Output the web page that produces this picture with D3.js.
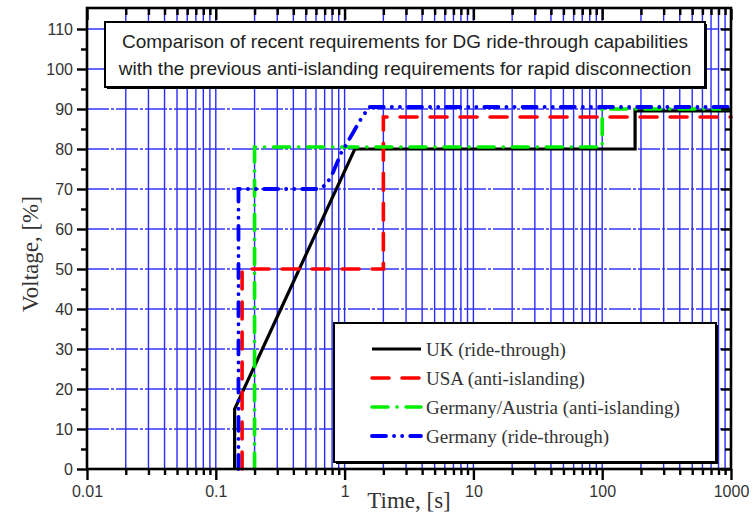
<!DOCTYPE html>
<html>
<head>
<meta charset="utf-8">
<script src="https://cdn.jsdelivr.net/npm/d3@7"></script>
<style>
  body { margin: 0; background: #fff; }
  svg { display: block; }
</style>
</head>
<body>
<div class="chart"></div>
<script>
// data
const ukTime = [0.14, 0.14, 1.2, 180, 180, 1000];
const ukVolt = [0, 15, 80, 80, 89.5, 89.5];

const usaTime = [0.16, 0.16, 2, 2, 1000];
const usaVolt = [0, 50, 50, 88, 88];

const gaTime = [0.2, 0.2, 100, 100, 1000];
const gaVolt = [0, 80.5, 80.5, 90, 90];

const deTime = [0.15, 0.15, 0.6, 0.72, 0.81, 0.94, 1.16, 1.31, 1.55, 1000];
const deVolt = [0, 70, 70, 71, 74, 79, 84, 87, 90.5, 90.5];

const seriesNames = ["UK (ride-through)", "USA (anti-islanding)",
  "Germany/Austria (anti-islanding)", "Germany (ride-through)"];

const xTickLabels = ["0.01", "0.1", "1", "10", "100", "1000"];
const yTickValues = [0, 10, 20, 30, 40, 50, 60, 70, 80, 90, 100, 110];

const titleLines = [
  "Comparison of recent requirements for DG ride-through capabilities",
  "with the previous anti-islanding requirements for rapid disconnection"
];

const W = 753, H = 518;
const plot = { left: 87, right: 731, top: 9, bottom: 469 };

const svg = d3.select(".chart").append("svg")
  .attr("width", W).attr("height", H);

const x = d3.scaleLog().domain([0.01, 1000]).range([plot.left, plot.right]);
const y = d3.scaleLinear().domain([0, 115]).range([plot.bottom, plot.top]);

// all 1..9 x decade ticks
const decades = xTickLabels.map(Number);
const minorX = [];
decades.slice(0, -1).forEach(d => { for (let k = 2; k <= 9; k++) minorX.push(d * k); });
const minorY = d3.range(5, 115, 10);

// grid
const grid = svg.append("g").attr("class", "grid");
grid.selectAll(".vgrid").data(minorX.concat(decades))
  .enter().append("line")
  .attr("x1", d => x(d)).attr("x2", d => x(d))
  .attr("y1", plot.top).attr("y2", plot.bottom)
  .attr("stroke", "#2a2aff").attr("stroke-width", 1.4);
grid.selectAll(".hgrid").data(yTickValues.filter(d => d > 0))
  .enter().append("line")
  .attr("x1", plot.left).attr("x2", plot.right)
  .attr("y1", d => y(d)).attr("y2", d => y(d))
  .attr("stroke", "#3535ff").attr("stroke-width", 1.6)
  .attr("stroke-dasharray", "22,2,3,2");

// series
const series = [
  { t: ukTime, v: ukVolt, color: "#000", dash: null, w: 3.2 },
  { t: usaTime, v: usaVolt, color: "#ff0000", dash: "17,13", w: 3.6 },
  { t: gaTime, v: gaVolt, color: "#00ee00", dash: "16,9,0.1,9", w: 3.6 },
  { t: deTime, v: deVolt, color: "#0000ff", dash: "14,8,0.1,8,0.1,8", w: 3.8 }
];

const line = d3.line().x(d => x(d[0])).y(d => y(d[1]));

const curves = svg.append("g").attr("class", "curves");
curves.selectAll("path").data(series).enter().append("path")
  .attr("d", s => line(s.t.map((t, i) => [t, s.v[i]])))
  .attr("fill", "none")
  .attr("stroke", s => s.color)
  .attr("stroke-width", s => s.w)
  .attr("stroke-dasharray", s => s.dash)
  .attr("stroke-linecap", s => s.dash ? "round" : "butt")
  .attr("stroke-linejoin", "miter");

// title box
const tb = { x: 105, y: 22, w: 600, h: 65 };
svg.append("rect").attr("x", tb.x + 2).attr("y", tb.y + 2)
  .attr("width", tb.w).attr("height", tb.h).attr("fill", "#000");
svg.append("rect").attr("x", tb.x).attr("y", tb.y)
  .attr("width", tb.w).attr("height", tb.h)
  .attr("fill", "#fff").attr("stroke", "#000").attr("stroke-width", 2);
svg.selectAll(".title").data(titleLines).enter().append("text")
  .attr("x", tb.x + tb.w / 2)
  .attr("y", (d, i) => 48 + i * 27)
  .attr("text-anchor", "middle")
  .style("font-family", "'Liberation Sans', Arial, sans-serif")
  .style("font-size", "19px")
  .attr("fill", "#222")
  .text(d => d);

// legend
const lb = { x: 334, y: 323, w: 382, h: 139 };
svg.append("rect").attr("x", lb.x + 2).attr("y", lb.y + 2)
  .attr("width", lb.w).attr("height", lb.h).attr("fill", "#000");
svg.append("rect").attr("x", lb.x).attr("y", lb.y)
  .attr("width", lb.w).attr("height", lb.h)
  .attr("fill", "#fff").attr("stroke", "#000").attr("stroke-width", 2);
const leg = svg.selectAll(".leg").data(series).enter().append("g")
  .attr("transform", (d, i) => `translate(0, ${349 + i * 29})`);
leg.append("line")
  .attr("x1", 372).attr("x2", 421).attr("y1", 0).attr("y2", 0)
  .attr("stroke", s => s.color)
  .attr("stroke-width", s => s.w)
  .attr("stroke-dasharray", s => s.dash)
  .attr("stroke-linecap", s => s.dash ? "round" : "butt");
leg.append("text")
  .attr("x", 426).attr("y", 7)
  .style("font-family", "'Liberation Serif', 'Times New Roman', serif")
  .style("font-size", "19px")
  .attr("fill", "#333")
  .text((d, i) => seriesNames[i]);

// axes
const axes = svg.append("g").attr("class", "axes");
const tickFont = "'Liberation Sans', Arial, sans-serif";

axes.append("g").attr("transform", `translate(0, ${plot.bottom})`)
  .call(d3.axisBottom(x).tickValues(decades).tickSize(11).tickPadding(6)
    .tickFormat((d, i) => xTickLabels[i]));
axes.append("g").attr("transform", `translate(0, ${plot.bottom})`)
  .call(d3.axisBottom(x).tickValues(minorX).tickSize(6).tickFormat(""));
axes.append("g").attr("transform", `translate(0, ${plot.top})`)
  .call(d3.axisTop(x).tickValues(decades).tickSize(-11).tickFormat(""));
axes.append("g").attr("transform", `translate(0, ${plot.top})`)
  .call(d3.axisTop(x).tickValues(minorX).tickSize(-6).tickFormat(""));

axes.append("g").attr("transform", `translate(${plot.left}, 0)`)
  .call(d3.axisLeft(y).tickValues(yTickValues).tickSize(10).tickPadding(4));
axes.append("g").attr("transform", `translate(${plot.left}, 0)`)
  .call(d3.axisLeft(y).tickValues(minorY).tickSize(6).tickFormat(""));
axes.append("g").attr("transform", `translate(${plot.right}, 0)`)
  .call(d3.axisRight(y).tickValues(yTickValues).tickSize(-10).tickFormat(""));
axes.append("g").attr("transform", `translate(${plot.right}, 0)`)
  .call(d3.axisRight(y).tickValues(minorY).tickSize(-6).tickFormat(""));

axes.selectAll(".domain").remove();
axes.selectAll(".tick line").attr("stroke", "#000").attr("stroke-width", 2.4);
axes.selectAll(".tick text")
  .style("font-family", tickFont).style("font-size", "16px").attr("fill", "#333");

// frame
svg.append("rect")
  .attr("x", plot.left).attr("y", plot.top - 1)
  .attr("width", plot.right - plot.left).attr("height", plot.bottom - plot.top + 1)
  .attr("fill", "none").attr("stroke", "#000").attr("stroke-width", 2.6);

// axis titles
svg.append("text")
  .attr("x", (plot.left + plot.right) / 2).attr("y", 508)
  .attr("text-anchor", "middle")
  .style("font-family", "'Liberation Serif', 'Times New Roman', serif")
  .style("font-size", "23px").attr("fill", "#333")
  .text("Time, [s]");
svg.append("text")
  .attr("transform", "translate(38, 254) rotate(-90)")
  .attr("text-anchor", "middle")
  .style("font-family", "'Liberation Serif', 'Times New Roman', serif")
  .style("font-size", "23px").attr("fill", "#333")
  .text("Voltage, [%]");
</script>
</body>
</html>
